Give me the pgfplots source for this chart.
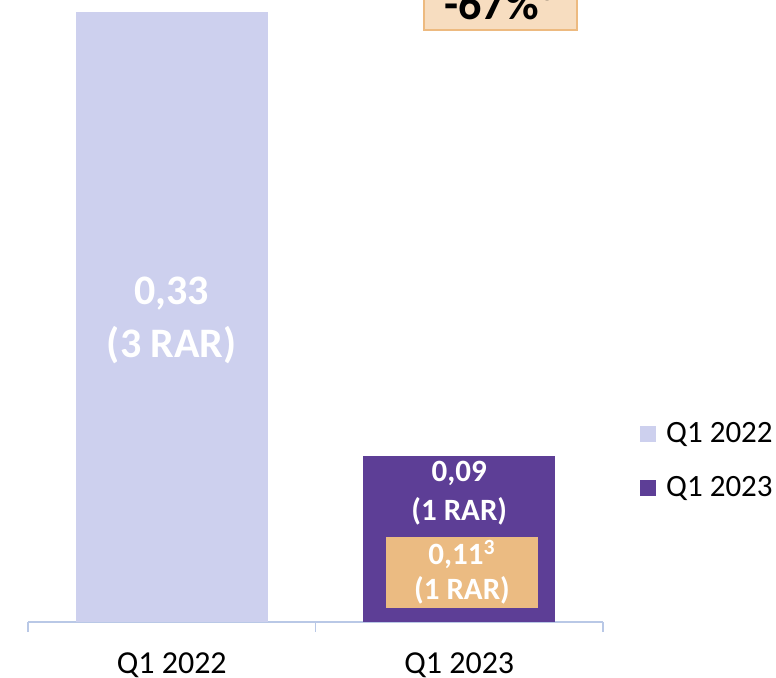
\documentclass[border=0pt]{standalone}
\usepackage{fontspec}
\setmainfont{Carlito}
\usepackage{pgfplots}
\pgfplotsset{compat=1.18}
\definecolor{lav}{RGB}{205,208,238}
\definecolor{purp}{RGB}{93,62,150}
\definecolor{orng}{RGB}{235,187,130}
\definecolor{peach}{RGB}{247,221,192}
\definecolor{peachline}{RGB}{237,186,128}
\definecolor{axisc}{RGB}{185,200,230}
\begin{document}
\begin{tikzpicture}
\begin{axis}[
    x=143.75pt, y=924.25pt,
    xmin=0, xmax=2, ymin=0, ymax=0.33,
    axis x line=bottom, axis y line=none,
    x axis line style={-, color=axisc, line width=0.6pt},
    xtick={0.5,1.5},
    xticklabels={Q1 2022, Q1 2023},
    minor xtick={0,1,2},
    major tick length=0pt, minor tick length=5pt,
    tick align=outside,
    minor tick style={color=axisc, line width=0.6pt},
    xticklabel style={font=\fontsize{16}{19}\selectfont, anchor=base, yshift=-25.5pt},
    clip=false,
    legend style={at={(1.064,0.264)}, anchor=west, draw=none, fill=none,
        font=\fontsize{15.5}{18}\selectfont, row sep=11pt, inner sep=0pt,
        /tikz/every odd column/.append style={column sep=3pt}},
    legend cell align=left,
    legend image code/.code={\fill[#1] (0pt,-4pt) rectangle (8pt,4pt);},
]
\addplot[ybar, bar width=96pt, bar shift=0pt, fill=lav, draw=none] coordinates {(0.5,0.33)};
\addlegendentry{Q1 2022}
\addplot[ybar, bar width=96pt, bar shift=0pt, fill=purp, draw=none] coordinates {(1.5,0.09)};
\addlegendentry{Q1 2023}

\node[text=white, font=\bfseries\fontsize{21}{26.5}\selectfont, align=center] at (axis cs:0.5,0.1634) {0,33\\(3 RAR)};
\node[text=white, font=\bfseries\fontsize{15.5}{19.5}\selectfont, align=center] at (axis cs:1.5,0.0695) {0,09\\(1 RAR)};
\fill[orng] (axis cs:1.245,0.00757) rectangle (axis cs:1.774,0.0460);
\node[text=white, font=\bfseries\fontsize{15.5}{17.5}\selectfont, align=center] at (axis cs:1.5095,0.0268) {0,11\textsuperscript{3}\\(1 RAR)};

\filldraw[fill=peach, draw=peachline, line width=1pt] (axis cs:1.377,0.3203) rectangle (axis cs:1.909,0.36);
\node[text=black, font=\bfseries\fontsize{23}{26}\selectfont, anchor=base] at (axis cs:1.643,0.3262) {-67\%\textsuperscript{3}};
\end{axis}
\pgfresetboundingbox
\path[use as bounding box] (-14pt,-27.5pt) rectangle (374pt,311pt);
\end{tikzpicture}
\end{document}
